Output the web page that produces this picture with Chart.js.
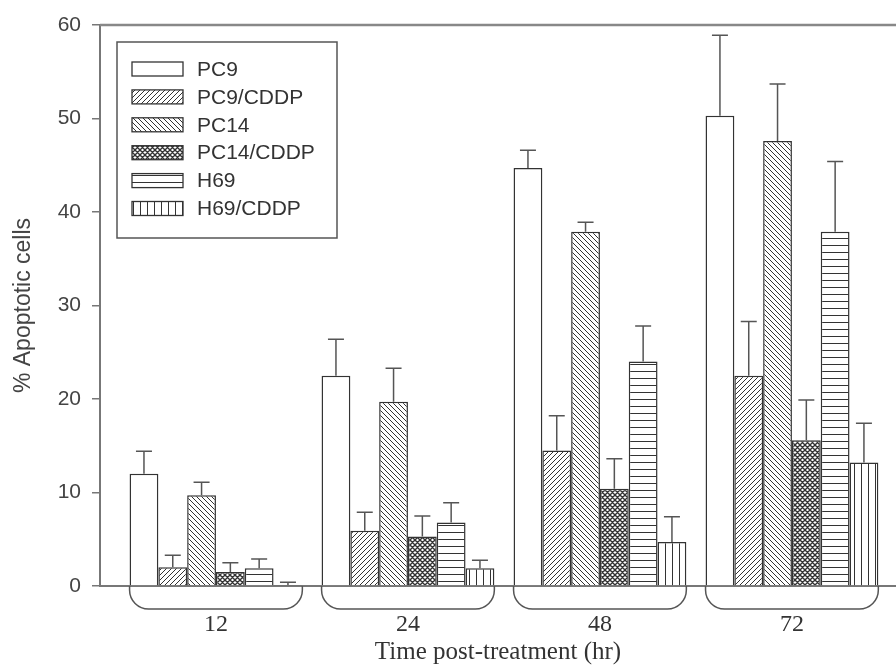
<!DOCTYPE html>
<html>
<head>
<meta charset="utf-8">
<script src="https://cdn.jsdelivr.net/npm/chart.js@4.4.1/dist/chart.umd.min.js"></script>
<style>
  body { margin: 0; background: #fff; }
  canvas { display: block; }
</style>
</head>
<body>
<canvas id="chart" width="896" height="667"></canvas>
<script>
// Группы по времени (часы)
const timeLabels = ['12', '24', '48', '72'];
const seriesNames = ['PC9', 'PC9/CDDP', 'PC14', 'PC14/CDDP', 'H69', 'H69/CDDP'];

// Средние значения, % апоптотических клеток
const pc9      = [12.0, 22.5, 44.7, 50.3];
const pc9Cddp  = [2.0, 5.9, 14.5, 22.5];
const pc14     = [9.7, 19.7, 37.9, 47.6];
const pc14Cddp = [1.5, 5.3, 10.4, 15.6];
const h69      = [1.9, 6.8, 24.0, 37.9];
const h69Cddp  = [0.1, 1.9, 4.7, 13.2];

// Погрешности (только вверх)
const pc9Err      = [2.4, 3.9, 1.9, 8.6];
const pc9CddpErr  = [1.3, 2.0, 3.7, 5.8];
const pc14Err     = [1.4, 3.6, 1.0, 6.1];
const pc14CddpErr = [1.0, 2.2, 3.2, 4.3];
const h69Err      = [1.0, 2.1, 3.8, 7.5];
const h69CddpErr  = [0.3, 0.85, 2.7, 4.2];

// Деления оси Y
const yTicks = [0, 10, 20, 30, 40, 50, 60];

const values = [pc9, pc9Cddp, pc14, pc14Cddp, h69, h69Cddp];
const errors = [pc9Err, pc9CddpErr, pc14Err, pc14CddpErr, h69Err, h69CddpErr];
const kinds = ['plain', 'fwd', 'back', 'cross', 'horiz', 'vert'];

const ink = '#333';
const axisGray = '#777';

// Штриховка для столбиков
function makePattern(kind) {
  const s = (kind === 'horiz' || kind === 'vert') ? 7 : 5;
  const c = document.createElement('canvas');
  c.width = s; c.height = s;
  const g = c.getContext('2d');
  g.fillStyle = '#fff';
  g.fillRect(0, 0, s, s);
  if (kind === 'plain') return g.createPattern(c, 'repeat');
  g.strokeStyle = ink;
  g.lineWidth = kind === 'cross' ? 1.4 : 1;
  g.beginPath();
  if (kind === 'fwd' || kind === 'cross') {
    g.moveTo(-1, s + 1); g.lineTo(s + 1, -1);
    g.moveTo(-1, 1); g.lineTo(1, -1);
    g.moveTo(s - 1, s + 1); g.lineTo(s + 1, s - 1);
  }
  if (kind === 'back' || kind === 'cross') {
    g.moveTo(-1, -1); g.lineTo(s + 1, s + 1);
    g.moveTo(s - 1, -1); g.lineTo(s + 1, 1);
    g.moveTo(-1, s - 1); g.lineTo(1, s + 1);
  }
  if (kind === 'horiz') { g.moveTo(0, 0.5); g.lineTo(s, 0.5); }
  if (kind === 'vert') { g.moveTo(0.5, 0); g.lineTo(0.5, s); }
  g.stroke();
  return g.createPattern(c, 'repeat');
}

const patterns = kinds.map(makePattern);

// Погрешности над столбиками
const errorBars = {
  id: 'errorBars',
  afterDatasetsDraw(chart) {
    const ctx = chart.ctx;
    const y = chart.scales.y;
    ctx.save();
    ctx.strokeStyle = '#555';
    ctx.lineWidth = 1.5;
    chart.data.datasets.forEach((ds, di) => {
      chart.getDatasetMeta(di).data.forEach((bar, i) => {
        const top = y.getPixelForValue(values[di][i] + errors[di][i]);
        ctx.beginPath();
        ctx.moveTo(bar.x, bar.y);
        ctx.lineTo(bar.x, top);
        ctx.moveTo(bar.x - 8, top);
        ctx.lineTo(bar.x + 8, top);
        ctx.stroke();
      });
    });
    ctx.restore();
  }
};

// Рамка сверху, скобки под группами и легенда
const decorations = {
  id: 'decorations',
  afterDraw(chart) {
    const ctx = chart.ctx;
    const a = chart.chartArea;
    ctx.save();

    ctx.strokeStyle = '#888';
    ctx.lineWidth = 2.5;
    ctx.beginPath();
    ctx.moveTo(a.left, a.top);
    ctx.lineTo(a.right, a.top);
    ctx.stroke();

    // скобки
    const first = chart.getDatasetMeta(0).data;
    const last = chart.getDatasetMeta(chart.data.datasets.length - 1).data;
    const r = 19;
    const yb = a.bottom + 23;
    ctx.strokeStyle = '#555';
    ctx.lineWidth = 1.5;
    first.forEach((bar, i) => {
      const l = bar.x - bar.width / 2;
      const rt = last[i].x + last[i].width / 2;
      ctx.beginPath();
      ctx.moveTo(l, a.bottom);
      ctx.lineTo(l, yb - r);
      ctx.arcTo(l, yb, l + r, yb, r);
      ctx.lineTo(rt - r, yb);
      ctx.arcTo(rt, yb, rt, yb - r, r);
      ctx.lineTo(rt, a.bottom);
      ctx.stroke();
    });

    // легенда
    const bx = a.left + 17, by = a.top + 17, bw = 220, bh = 196;
    ctx.fillStyle = '#fff';
    ctx.fillRect(bx, by, bw, bh);
    ctx.strokeStyle = '#555';
    ctx.lineWidth = 1.5;
    ctx.strokeRect(bx, by, bw, bh);
    ctx.font = '21px "Liberation Sans", Arial, sans-serif';
    ctx.textBaseline = 'middle';
    chart.data.datasets.forEach((ds, i) => {
      const cy = by + 27 + i * 27.9;
      ctx.fillStyle = ds.backgroundColor;
      ctx.fillRect(bx + 15, cy - 7, 51, 14);
      ctx.strokeStyle = ink;
      ctx.lineWidth = 1.3;
      ctx.strokeRect(bx + 15, cy - 7, 51, 14);
      ctx.fillStyle = ink;
      ctx.fillText(ds.label, bx + 80, cy + 1);
    });
    ctx.restore();
  }
};

const datasets = seriesNames.map((name, si) => ({
  label: name,
  data: values[si].map((v, i) => ({ x: i, y: v })),
  backgroundColor: patterns[si],
  borderColor: ink,
  borderWidth: 1.5,
  categoryPercentage: 0.9,
  barPercentage: 1.0
}));

const ctx = document.getElementById('chart').getContext('2d');

const chart = new Chart(ctx, {
  type: 'bar',
  data: { datasets },
  plugins: [errorBars, decorations],
  options: {
    responsive: false,
    animation: false,
    layout: { padding: { top: 25, right: 0, left: 0, bottom: 0 } },
    plugins: { legend: { display: false }, tooltip: { enabled: false } },
    scales: {
      x: {
        type: 'linear',
        min: -0.604,
        max: 3.542,
        offset: false,
        grid: { display: false },
        border: { display: true, color: axisGray, width: 2 },
        afterBuildTicks: (scale) => { scale.ticks = timeLabels.map((t, i) => ({ value: i })); },
        afterFit: (scale) => { scale.height = 81; },
        ticks: {
          callback: (v) => timeLabels[v],
          font: { family: '"Liberation Serif", "Times New Roman", serif', size: 24 },
          color: ink,
          padding: 16,
          maxRotation: 0
        },
        title: {
          display: true,
          text: 'Time post-treatment (hr)',
          font: { family: '"Liberation Serif", "Times New Roman", serif', size: 25 },
          color: ink,
          padding: { top: 0, bottom: 0 }
        }
      },
      y: {
        min: 0,
        max: yTicks[yTicks.length - 1],
        afterBuildTicks: (scale) => { scale.ticks = yTicks.map(v => ({ value: v })); },
        afterFit: (scale) => { scale.width = 100; },
        grid: { display: true, drawOnChartArea: false, drawTicks: true, tickLength: 8, color: axisGray, lineWidth: 1.5 },
        border: { display: true, color: axisGray, width: 2 },
        ticks: {
          font: { family: '"Liberation Sans", Arial, sans-serif', size: 21 },
          color: '#444',
          padding: 11
        },
        title: {
          display: true,
          text: '% Apoptotic cells',
          font: { family: '"Liberation Sans", Arial, sans-serif', size: 23 },
          color: '#444',
          padding: { top: 10, bottom: 0 }
        }
      }
    }
  }
});
</script>
</body>
</html>
